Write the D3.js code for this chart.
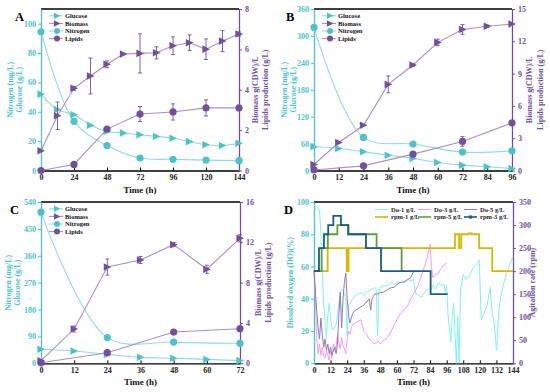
<!DOCTYPE html>
<html>
<head>
<meta charset="utf-8">
<script src="https://cdn.jsdelivr.net/npm/d3@7"></script>
<style>
  body { margin: 0; background: #fff; }
  svg text { font-family: "Liberation Serif", "Times New Roman", serif; font-weight: bold; }
</style>
</head>
<body>
<div id="chart"></div>
<script>
// ---- panel A: 1 g/L ----
var timeA = [0, 12, 24, 36, 48, 60, 72, 84, 96, 108, 120, 132, 144];
var glucoseA = [52, 41.5, 38, 30.8, 26.6, 25.5, 24.3, 23.2, 22, 19.7, 17.5, 17, 18.6];
var nitroTimeA = [0, 24, 48, 72, 96, 120, 144];
var nitrogenA = [94.5, 33.5, 17, 8.5, 7.6, 7.1, 6.7];
var biomassA = [0.98, 2.71, 4.07, 4.68, 5.26, 5.77, 5.8, 5.83, 6.18, 6.33, 6.01, 6.41, 6.76];
var biomassErrA = [0, 0.68, 0.1, 0.89, 0.17, 0, 0.97, 0.3, 0.44, 0.39, 0.51, 0.52, 0.1];
var lipidTimeA = [0, 24, 48, 72, 96, 120, 144];
var lipidsA = [0, 0.3, 2.05, 2.8, 2.9, 3.1, 3.1];
var lipidsErrA = [0, 0, 0.05, 0.37, 0.4, 0.4, 0.1];

// ---- panel B: 3 g/L ----
var timeB = [0, 12, 24, 36, 48, 60, 72, 84, 96];
var glucoseB = [52.8, 49, 41.7, 34, 26.8, 17.9, 11.9, 8.2, 4.5];
var nitroTimeB = [0, 24, 48, 72, 96];
var nitrogenB = [319, 73.8, 59, 41, 44];
var biomassB = [0.56, 2.6, 4.2, 8.0, 9.8, 11.9, 13.1, 13.4, 13.6];
var biomassErrB = [0, 0, 0, 0.78, 0.1, 0.3, 0.45, 0.1, 0];
var lipidTimeB = [0, 24, 48, 72, 96];
var lipidsB = [0.05, 0.43, 1.52, 2.7, 4.43];
var lipidsErrB = [0, 0, 0.1, 0.45, 0];

// ---- panel C: 5 g/L ----
var timeC = [0, 12, 24, 36, 48, 60, 72];
var glucoseC = [47, 41, 30, 20, 17, 13, 9];
var nitroTimeC = [0, 24, 48, 72];
var nitrogenC = [506, 86, 71, 67];
var biomassC = [0.26, 3.4, 9.55, 10.25, 11.77, 9.33, 12.4];
var biomassErrC = [0, 0.3, 0.8, 0.35, 0.2, 0.4, 0.35];
var lipidTimeC = [0, 24, 48, 72];
var lipidsC = [0.05, 1.05, 3.1, 3.43];
var lipidsErrC = [0, 0, 0, 0];

// ---- panel D: dissolved oxygen (%) and agitation (rpm) ----
var do1 = [[0,98],[2,97],[4,95],[5,80],[6,55],[7,38],[8,25],[9,15],[10,30],[11,37],[12,28],[13,22],[14,21],[15,22],[16,24],
  [17,30],[18,38],[19,44],[20,46],[21,45],[22,43],[23,40],[24,17],[25,36],[26,37],[28,40],[30,42],[32,43],[34,44],[36,42],
  [38,44],[40,45],[42,46],[44,47],[45,46],[46,17],[47,45],[48,47],[50,48],[52,48],[54,49],[56,50],[58,49],[60,50],[62,50],
  [64,51],[66,50],[68,52],[70,51],[72,52],[73,45],[74,43],[76,42],[78,41],[80,44],[82,46],[84,45],[86,48],[88,46],[90,50],
  [92,48],[94,49],[95,44],[96,48],[97,30],[99,13],[100,28],[101,37],[102,20],[103,0],[104,29],[105,0],[106,46],[108,55],
  [110,52],[113,55],[115,59],[118,62],[119.6,64],[121,27],[123,31],[125,35],[127.5,47],[129,30],[130.5,25],[132,8],[134,35],
  [136,45],[138,52],[141,60],[144,66]];
var do3 = [[0,58],[1,40],[2,15],[3,6],[4,12],[5,5],[6,10],[7,4],[8,3],[9,8],[10,5],[11,2],[12,8],[13,3],[14,12],[15,8],
  [16,11],[17,18],[18,13],[19,9],[20,16],[21,11],[22,9],[23,6],[24,15],[25,20],[26,18],[27,22],[28,24],[30,25],[32,26],
  [34,27],[35,23],[36,20],[38,18],[40,15],[42,13],[44,12],[46,14],[48,12],[50,14],[52,15],[54,17],[56,20],[58,24],[60,27],
  [62,30],[64,32],[66,34],[68,36],[70,40],[72,43],[74,46],[76,50],[78,55],[80,60],[82,66],[84,74],[85,60],[86,53],[88,55],
  [90,56],[92,59],[94,61],[96,62]];
var do5 = [[0,57],[1,45],[2,32],[3,22],[4,15],[5,28],[6,18],[7,10],[8,15],[9,8],[10,12],[11,6],[12,10],[13,5],[14,8],
  [15,10],[16,6],[17,12],[18,30],[19,44],[20,22],[21,40],[22,50],[23,56],[24,40],[25,30],[26,25],[27,28],[28,31],[30,33],
  [32,34],[34,35],[36,36],[38,38],[40,40],[41,33],[42,40],[44,43],[46,43],[48,44],[50,44],[52,45],[54,46],[56,47],[58,47],
  [60,49],[62,50],[64,50],[66,51],[68,52],[70,53],[72,57]];
// agitation steps: [start time, rpm]
var rpm1 = [[0,200],[9.9,250],[23.7,200],[25,250],[102,280],[105,250],[106.5,280],[112,282],[114,280],[119.5,250],[129,200],[144,200]];
var rpm5 = [[0,200],[5.5,250],[10,280],[16.9,300],[24.8,280],[45.3,250],[63.4,200],[66,200]];
var rpm3 = [[0,200],[3.6,250],[7.2,280],[10.3,300],[14,320],[19.5,300],[24.8,280],[37.6,250],[48.5,200],[84.4,150],[96.7,150]];

var cyan = "#4dc2cb", cyanLine = "#93dade";
var purple = "#6f509f", purpleLine = "#a58fca";

var svg = d3.select("#chart").append("svg")
    .attr("width", 550).attr("height", 392);

// right-pointing triangle marker
var triPath = "M-3.6,-3.8L4,0L-3.6,3.8Z";

function axes(g, c) {
  var x = d3.scaleLinear().domain(c.xDomain).range([c.left, c.right]);
  var yL = d3.scaleLinear().domain(c.lDomain).range([c.bottom, c.top]);
  var yR = d3.scaleLinear().domain(c.rDomain).range([c.bottom, c.top]);

  // black top frame
  g.append("line").attr("x1", c.left).attr("x2", c.right)
      .attr("y1", c.top).attr("y2", c.top)
      .attr("stroke", "#000").attr("stroke-width", 1.3);

  var ax = g.append("g").attr("transform", "translate(0," + c.bottom + ")")
      .call(d3.axisBottom(x).tickValues(c.xTicks).tickSize(-3).tickSizeOuter(0).tickPadding(4));
  ax.select(".domain").attr("stroke", "#000").attr("stroke-width", 1.3);
  ax.selectAll("text").attr("font-size", 8).attr("fill", "#222");

  var al = g.append("g").attr("transform", "translate(" + c.left + ",0)")
      .call(d3.axisLeft(yL).tickValues(c.lTicks).tickSize(3).tickSizeOuter(0).tickPadding(2));
  al.select(".domain").attr("stroke", cyan).attr("stroke-width", 1.3);
  al.selectAll("line").attr("stroke", cyan);
  al.selectAll("text").attr("font-size", 8).attr("fill", cyan);

  var ar = g.append("g").attr("transform", "translate(" + c.right + ",0)")
      .call(d3.axisRight(yR).tickValues(c.rTicks).tickSize(3).tickSizeOuter(0).tickPadding(3));
  ar.select(".domain").attr("stroke", purple).attr("stroke-width", 1.3);
  ar.selectAll("line").attr("stroke", purple);
  ar.selectAll("text").attr("font-size", 8).attr("fill", purple);

  // titles
  var midY = (c.top + c.bottom) / 2;
  g.append("text").attr("x", (c.left + c.right) / 2).attr("y", c.bottom + 22)
      .attr("text-anchor", "middle").attr("font-size", 9).attr("fill", "#111").text("Time (h)");
  c.lTitles.forEach(function(t, i) {
    g.append("text").attr("transform", "translate(" + c.lTitleX[i] + "," + midY + ") rotate(-90)")
        .attr("text-anchor", "middle").attr("font-size", 8).attr("fill", cyan).text(t);
  });
  c.rTitles.forEach(function(t, i) {
    g.append("text").attr("transform", "translate(" + c.rTitleX[i] + "," + midY + ") rotate(-90)")
        .attr("text-anchor", "middle").attr("font-size", 8).attr("fill", purple).text(t);
  });
  g.append("text").attr("x", c.letterX).attr("y", c.top + 12)
      .attr("font-size", 12.5).attr("fill", "#000").text(c.letter);

  return { x: x, yL: yL, yR: yR };
}

function series(g, s, t, v, err, color, lineColor, shape, curve) {
  var pts = t.map(function(d, i) { return { t: d, v: v[i], e: err ? err[i] : 0 }; });
  var line = d3.line().x(function(d) { return s.x(d.t); }).y(function(d) { return s.y(d.v); }).curve(curve);
  g.append("path").datum(pts).attr("d", line)
      .attr("fill", "none").attr("stroke", lineColor).attr("stroke-width", 1.1);
  // error bars
  var eb = g.selectAll(null).data(pts.filter(function(d) { return d.e > 0; })).enter().append("g")
      .attr("stroke", color).attr("stroke-width", 0.9);
  eb.append("line").attr("x1", function(d) { return s.x(d.t); }).attr("x2", function(d) { return s.x(d.t); })
      .attr("y1", function(d) { return s.y(d.v - d.e); }).attr("y2", function(d) { return s.y(d.v + d.e); });
  [-1, 1].forEach(function(k) {
    eb.append("line").attr("x1", function(d) { return s.x(d.t) - 2; }).attr("x2", function(d) { return s.x(d.t) + 2; })
        .attr("y1", function(d) { return s.y(d.v + k * d.e); }).attr("y2", function(d) { return s.y(d.v + k * d.e); });
  });
  // markers
  var m = g.selectAll(null).data(pts).enter();
  if (shape === "tri") {
    m.append("path").attr("d", triPath).attr("fill", color)
        .attr("transform", function(d) { return "translate(" + s.x(d.t) + "," + s.y(d.v) + ")"; });
  } else {
    m.append("circle").attr("r", 3.6).attr("fill", color)
        .attr("cx", function(d) { return s.x(d.t); }).attr("cy", function(d) { return s.y(d.v); });
  }
}

function legend4(g, x0, y0) {
  var items = [["Glucose", cyan, cyanLine, "tri"], ["Biomass", purple, purpleLine, "tri"],
               ["Nitrogen", cyan, cyanLine, "c"], ["Lipids", purple, purpleLine, "c"]];
  items.forEach(function(it, i) {
    var y = y0 + i * 7.6;
    g.append("line").attr("x1", x0).attr("x2", x0 + 14).attr("y1", y).attr("y2", y)
        .attr("stroke", it[2]).attr("stroke-width", 1.1);
    if (it[3] === "tri") {
      g.append("path").attr("d", triPath).attr("fill", it[1])
          .attr("transform", "translate(" + (x0 + 8) + "," + y + ") scale(0.85)");
    } else {
      g.append("circle").attr("cx", x0 + 8).attr("cy", y).attr("r", 3).attr("fill", it[1]);
    }
    g.append("text").attr("x", x0 + 16).attr("y", y + 2.2).attr("font-size", 6.5).attr("fill", "#111").text(it[0]);
  });
}

function fermPanel(cfg, d) {
  var g = svg.append("g");
  var sc = axes(g, cfg);
  var left = { x: sc.x, y: sc.yL }, right = { x: sc.x, y: sc.yR };
  series(g, left, d.nitroTime, d.nitrogen, null, cyan, cyanLine, "c", d3.curveCatmullRom);
  series(g, left, d.time, d.glucose, null, cyan, cyanLine, "tri", d3.curveCatmullRom);
  series(g, right, d.lipidTime, d.lipids, d.lipidsErr, purple, purpleLine, "c", d3.curveLinear);
  series(g, right, d.time, d.biomass, d.biomassErr, purple, purpleLine, "tri", d3.curveLinear);
  legend4(g, cfg.left + 8, cfg.top + 6.8);
}

var ferTitlesL = ["Nitrogen (mg/L)", "Glucose (g/L)"];
var ferTitlesR = ["Biomass g(CDW)/L", "Lipids production (g/L)"];

fermPanel({ left: 41, right: 239, top: 9, bottom: 170.5, letter: "A", letterX: 15,
    xDomain: [0, 144], xTicks: [0, 24, 48, 72, 96, 120, 144],
    lDomain: [0, 110], lTicks: [0, 20, 40, 60, 80, 100],
    rDomain: [0, 8], rTicks: [0, 2, 4, 6, 8],
    lTitles: ferTitlesL, lTitleX: [13, 22], rTitles: ferTitlesR, rTitleX: [258, 268] },
  { time: timeA, glucose: glucoseA, nitroTime: nitroTimeA, nitrogen: nitrogenA, biomass: biomassA,
    biomassErr: biomassErrA, lipidTime: lipidTimeA, lipids: lipidsA, lipidsErr: lipidsErrA });

fermPanel({ left: 314, right: 512, top: 9, bottom: 170.5, letter: "B", letterX: 286,
    xDomain: [0, 96], xTicks: [0, 12, 24, 36, 48, 60, 72, 84, 96],
    lDomain: [0, 360], lTicks: [0, 60, 120, 180, 240, 300, 360],
    rDomain: [0, 15], rTicks: [0, 3, 6, 9, 12, 15],
    lTitles: ferTitlesL, lTitleX: [287, 296], rTitles: ferTitlesR, rTitleX: [532, 543] },
  { time: timeB, glucose: glucoseB, nitroTime: nitroTimeB, nitrogen: nitrogenB, biomass: biomassB,
    biomassErr: biomassErrB, lipidTime: lipidTimeB, lipids: lipidsB, lipidsErr: lipidsErrB });

fermPanel({ left: 41, right: 240, top: 202, bottom: 363.3, letter: "C", letterX: 10,
    xDomain: [0, 72], xTicks: [0, 12, 24, 36, 48, 60, 72],
    lDomain: [0, 540], lTicks: [0, 90, 180, 270, 360, 450, 540],
    rDomain: [0, 16], rTicks: [0, 4, 8, 12, 16],
    lTitles: ferTitlesL, lTitleX: [11, 20], rTitles: ferTitlesR, rTitleX: [261, 271] },
  { time: timeC, glucose: glucoseC, nitroTime: nitroTimeC, nitrogen: nitrogenC, biomass: biomassC,
    biomassErr: biomassErrC, lipidTime: lipidTimeC, lipids: lipidsC, lipidsErr: lipidsErrC });

// ---- panel D ----
(function() {
  var cfg = { left: 314, right: 513, top: 202, bottom: 363.3, letter: "D", letterX: 284,
    xDomain: [0, 144], xTicks: d3.range(0, 145, 12),
    lDomain: [0, 100], lTicks: [0, 20, 40, 60, 80, 100],
    rDomain: [0, 350], rTicks: [0, 50, 100, 150, 200, 250, 300, 350],
    lTitles: ["Dissolved oxygen (DO)(%)"], lTitleX: [293], rTitles: ["Agitation rate (rpm)"], rTitleX: [535] };
  var g = svg.append("g");
  var sc = axes(g, cfg);
  var doLine = d3.line().x(function(d) { return sc.x(d[0]); }).y(function(d) { return sc.yL(d[1]); });
  var rpmLine = d3.line().x(function(d) { return sc.x(d[0]); }).y(function(d) { return sc.yR(d[1]); })
      .curve(d3.curveStepAfter);

  var doSeries = [[do1, "#7ff3ee", "Do-1 g/L"], [do3, "#f39cee", "Do-3 g/L"], [do5, "#9479b6", "Do-5 g/L"]];
  var rpmSeries = [[rpm1, "#d4b900", "rpm-1 g/L"], [rpm5, "#5c9f3b", "rpm-5 g/L"], [rpm3, "#1d5b86", "rpm-3 g/L"]];

  doSeries.forEach(function(s) {
    g.append("path").datum(s[0]).attr("d", doLine)
        .attr("fill", "none").attr("stroke", s[1]).attr("stroke-width", 1);
  });
  // draw yellow first, then green, then blue on top
  rpmSeries.forEach(function(s) {
    g.append("path").datum(s[0]).attr("d", rpmLine)
        .attr("fill", "none").attr("stroke", s[1]).attr("stroke-width", 1.8);
  });

  // legend, two rows of three
  var colX = [375, 418, 464];
  var rows = [doSeries, [rpmSeries[0], rpmSeries[1], rpmSeries[2]]];
  rows.forEach(function(row, r) {
    var y = 209.5 + r * 7.5;
    row.forEach(function(s, i) {
      g.append("line").attr("x1", colX[i]).attr("x2", colX[i] + 13).attr("y1", y).attr("y2", y)
          .attr("stroke", s[1]).attr("stroke-width", r ? 1.6 : 1);
      if (s[2] === "rpm-3 g/L") {
        g.append("rect").attr("x", colX[i] + 5).attr("y", y - 1.6).attr("width", 3.2).attr("height", 3.2)
            .attr("fill", s[1]);
      }
      g.append("text").attr("x", colX[i] + 16).attr("y", y + 2.2).attr("font-size", 6.5)
          .attr("font-weight", "normal").attr("fill", "#222").text(s[2]);
    });
  });
})();
</script>
</body>
</html>
